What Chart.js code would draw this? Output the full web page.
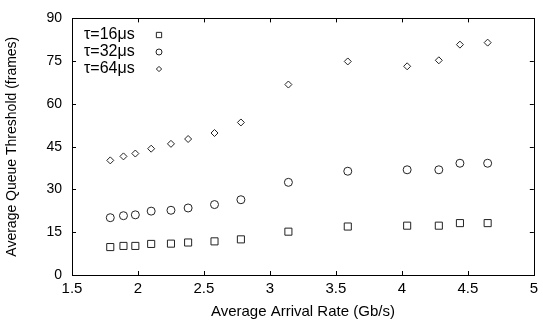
<!DOCTYPE html>
<html>
<head>
<meta charset="utf-8">
<script src="https://cdn.jsdelivr.net/npm/chart.js@4"></script>
<style>
  html, body { margin: 0; padding: 0; background: #fff; }
  #wrap { width: 543px; height: 323px; }
</style>
</head>
<body>
<div id="wrap"><canvas id="canvas" width="543" height="323"></canvas></div>
<script>
// arrival rate (Gb/s)
var rate = [1.79, 1.89, 1.98, 2.10, 2.25, 2.38, 2.58, 2.78, 3.14, 3.59, 4.04, 4.28, 4.44, 4.65];
var tau16 = [9.8, 10.2, 10.2, 10.9, 11.0, 11.4, 11.8, 12.5, 15.2, 17.0, 17.3, 17.3, 18.2, 18.2];
var tau32 = [20.1, 20.8, 21.1, 22.4, 22.7, 23.5, 24.7, 26.4, 32.5, 36.4, 36.9, 36.9, 39.2, 39.2];
var tau64 = [40.2, 41.6, 42.6, 44.3, 46.0, 47.7, 49.8, 53.5, 66.8, 74.9, 73.2, 75.3, 80.8, 81.5];
var labels = ['τ=16μs', 'τ=32μs', 'τ=64μs'];
var xTicks = [1.5, 2, 2.5, 3, 3.5, 4, 4.5, 5];
var yTicks = [0, 15, 30, 45, 60, 75, 90];

function pts(ys) {
    var out = [];
    for (var i = 0; i < rate.length; i++) {
        out.push({x: rate[i], y: ys[i]});
    }
    return out;
}

var FONT = '"Liberation Sans", Arial, Helvetica, sans-serif';

// frame, inward ticks on all four sides, and legend (text then marker)
var framePlugin = {
    id: 'frame',
    afterDatasetsDraw: function (chart) {
        var ctx = chart.ctx, a = chart.chartArea;
        var xs = chart.scales.x, ys = chart.scales.y;
        ctx.save();
        ctx.strokeStyle = '#000';
        ctx.lineWidth = 1;
        ctx.strokeRect(Math.round(a.left) + 0.5, Math.round(a.top) + 0.5,
            Math.round(a.right - a.left), Math.round(a.bottom - a.top));
        ctx.beginPath();
        xTicks.forEach(function (v) {
            var px = Math.round(xs.getPixelForValue(v)) + 0.5;
            ctx.moveTo(px, a.bottom); ctx.lineTo(px, a.bottom - 4);
            ctx.moveTo(px, a.top); ctx.lineTo(px, a.top + 4);
        });
        yTicks.forEach(function (v) {
            var py = Math.round(ys.getPixelForValue(v)) + 0.5;
            ctx.moveTo(a.left, py); ctx.lineTo(a.left + 4, py);
            ctx.moveTo(a.right, py); ctx.lineTo(a.right - 4, py);
        });
        ctx.stroke();

        // legend
        ctx.font = '16px ' + FONT;
        ctx.textBaseline = 'middle';
        ctx.textAlign = 'left';
        var rowY = [35, 52, 69];
        chart.data.datasets.forEach(function (ds, i) {
            ctx.fillStyle = '#000';
            ctx.fillText(labels[i], 84, rowY[i]);
            ctx.fillStyle = 'rgba(0,0,0,0)';
            ctx.strokeStyle = ds.borderColor;
            Chart.helpers.drawPoint(ctx, {
                pointStyle: ds.pointStyle,
                radius: ds.pointRadius * 0.75,
                borderWidth: 1
            }, 159, rowY[i]);
        });
        ctx.restore();
    }
};

var ctx = document.getElementById('canvas');
var myChart = new Chart(ctx, {
    type: 'scatter',
    data: {
        datasets: [
            {
                label: labels[0],
                data: pts(tau16),
                pointStyle: 'rect',
                pointRadius: 5,
                borderColor: '#222',
                backgroundColor: 'transparent',
                borderWidth: 1
            },
            {
                label: labels[1],
                data: pts(tau32),
                pointStyle: 'circle',
                pointRadius: 4,
                borderColor: '#222',
                backgroundColor: 'transparent',
                borderWidth: 1
            },
            {
                label: labels[2],
                data: pts(tau64),
                pointStyle: 'rectRot',
                pointRadius: 3.5,
                borderColor: '#222',
                backgroundColor: 'transparent',
                borderWidth: 1
            }
        ]
    },
    options: {
        responsive: false,
        animation: false,
        layout: {padding: {top: 11, right: 7, left: 0, bottom: 0}},
        plugins: {
            legend: {display: false},
            tooltip: {enabled: false}
        },
        scales: {
            x: {
                type: 'linear',
                min: 1.5,
                max: 5,
                afterBuildTicks: function (s) { s.ticks = xTicks.map(function (v) { return {value: v}; }); },
                afterFit: function (s) { s.height = 48; },
                grid: {display: false, drawTicks: false},
                border: {display: false},
                ticks: {color: '#000', padding: 5, font: {size: 15, family: FONT}, maxRotation: 0,
                    callback: function (v) { return String(v); }},
                title: {display: true, text: 'Average Arrival Rate (Gb/s)', color: '#000',
                    font: {size: 15, family: FONT}, padding: {top: 2, bottom: 2}}
            },
            y: {
                min: 0,
                max: 90,
                afterBuildTicks: function (s) { s.ticks = yTicks.map(function (v) { return {value: v}; }); },
                afterFit: function (s) { s.width = 72; },
                grid: {display: false, drawTicks: false},
                border: {display: false},
                ticks: {color: '#000', padding: 10, font: {size: 14, family: FONT},
                    callback: function (v) { return String(v); }},
                title: {display: true, text: 'Average Queue Threshold (frames)', color: '#000',
                    font: {size: 14, family: FONT}, padding: {top: 4, bottom: 0}}
            }
        }
    },
    plugins: [framePlugin]
});
</script>
</body>
</html>
